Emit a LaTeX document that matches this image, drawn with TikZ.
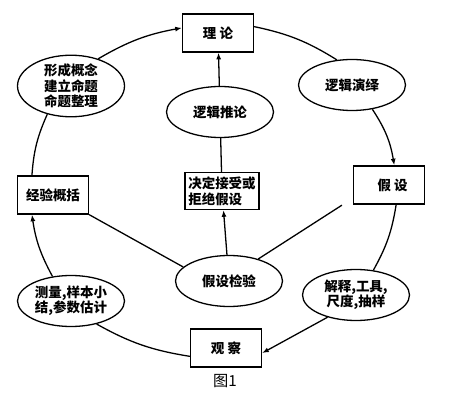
\documentclass[tikz,border=0pt]{standalone}
\usepackage{fontspec}
\newfontfamily\cjk{Noto Sans CJK SC}
\usetikzlibrary{arrows.meta,shapes.geometric}
\tikzset{
box/.style={
draw,
line width=1.1pt,
minimum width=2.13cm,
minimum height=1.14cm,
inner sep=2pt,
align=center,
font=\cjk\bfseries\fontsize{11.5}{13.5}\selectfont
},
bubble/.style={
draw,
ellipse,
line width=1.1pt,
minimum width=3.21cm,
minimum height=1.53cm,
inner sep=0pt,
align=center,
font=\cjk\bfseries\fontsize{11.5}{13}\selectfont
},
link/.style={
line width=1.1pt
},
arrow/.style={
link,
-{Latex[length=2mm]}
}
}
\begin{document}
\begin{tikzpicture}[x=0.03cm,y=-0.03cm]
\useasboundingbox (0,0) rectangle (453,404);
\node[box](ll) at (218,33){理 论};
\node[bubble](xg) at (71,86){形成概念\\建立命题\\命题整理};
\node[bubble](ly) at (352,85){逻辑演绎};
\node[bubble](tl) at (220,112){逻辑推论};
\node[box](jy) at (53,195){经验概括};
\node[box,minimum width=2.22cm,minimum height=1.11cm,inner sep=1pt,align=left](jd) at (222,191){决定接受或\\拒绝假设};
\node[box](js) at (389,185){\hspace{6pt}假 设};
\node[bubble](jj) at (229,281){假设检验};
\node[bubble](cl) at (71,301){测量,样本小\\结,参数估计};
\node[bubble](jg) at (356,295){解释,工具,\\尺度,抽样};
\node[box](gc) at (226,348){观 察};
\node[font=\cjk\fontsize{13}{15}\selectfont](tu) at (225,381){图1};

% outer ring
\draw[arrow](xg.45) to[bend left=10] (ll.172);
\draw[link](ll.10) to[bend left=10] (ly.121);
\draw[arrow](ly.-50) to[bend left=12] (js.75);
\draw[link](js.-70) to[bend left=10] (jg.55);
\draw[arrow](jg.-142) -- (gc.-8);
\draw[link](gc.-167) to[bend left=10] (cl.-42);
\draw[arrow](cl.127) to[bend left=10] (jy.-137);
\draw[link](jy.137) to[bend left=10] (xg.-130);

% middle
\draw[arrow](tl) -- (ll);
\draw[link](jd) -- (tl);
\draw[arrow](jj) -- (jd);
\draw[link](jj.163) -- (jy.south east);
\draw[link,shorten >=0.39cm](jj.37) -- (js.200);
\end{tikzpicture}
\end{document}
